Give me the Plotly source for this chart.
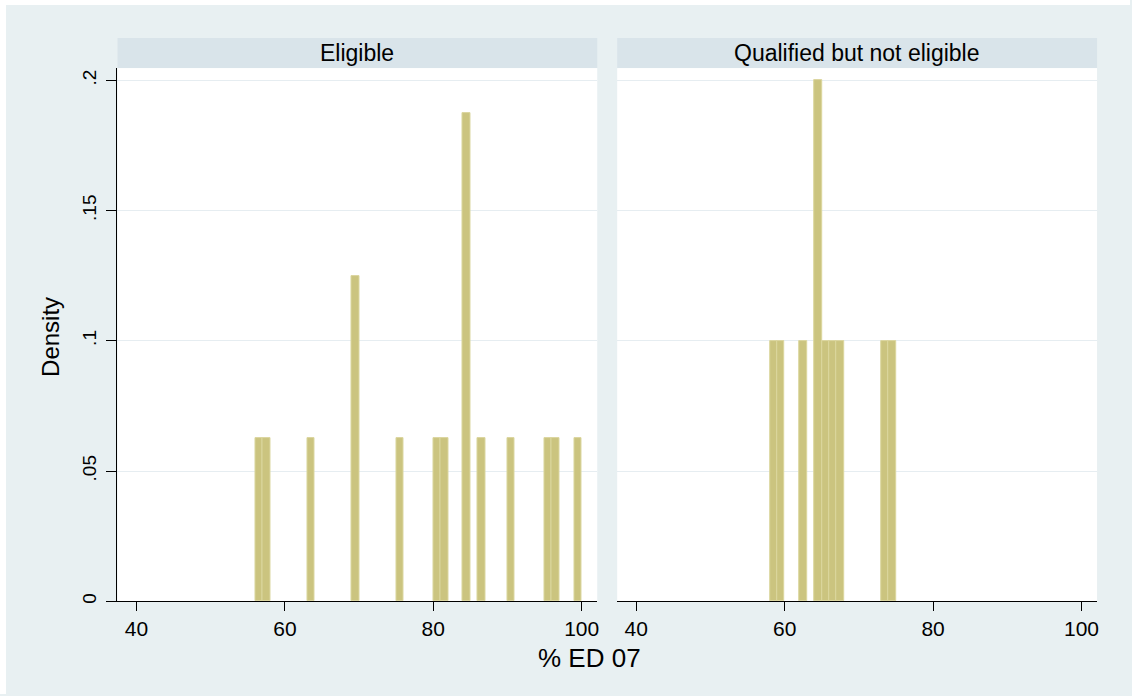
import plotly.graph_objects as go

# ---- data ----
elig_x = [56.5, 57.5, 63.5, 69.5, 75.5, 80.5, 81.5, 84.5, 86.5, 90.5, 95.5, 96.5, 99.5]
elig_y = [0.0625, 0.0625, 0.0625, 0.125, 0.0625, 0.0625, 0.0625, 0.1875, 0.0625, 0.0625, 0.0625, 0.0625, 0.0625]
qual_x = [58.5, 59.5, 62.5, 64.5, 65.5, 66.5, 67.5, 73.5, 74.5]
qual_y = [0.1, 0.1, 0.1, 0.2, 0.1, 0.1, 0.1, 0.1, 0.1]
bin_width = 1
panel_titles = ["Eligible", "Qualified but not eligible"]
x_ticks = [40, 60, 80, 100]
x_ticklabels = ["40", "60", "80", "100"]
y_ticks = [0, 0.05, 0.1, 0.15, 0.2]
y_ticklabels = ["0", ".05", ".1", ".15", ".2"]
x_title = "% ED 07"
y_title = "Density"

W, H = 1132, 696
OFF = 0  # body margin removed via post_script
BG = "#e8f0f2"
STRIP = "#d9e4ea"
FILL = "#cbc47f"
EDGE = "#dbd69e"
GRID = "#e6edf1"
FONT = "Liberation Sans, Arial, sans-serif"

def px(x):
    return (x - OFF) / W

def py(y):
    return 1 - (y - OFF) / H

left_dom = [px(117.7), px(598.3)]
right_dom = [px(618.3), px(1099)]
y_dom = [py(603), py(68.3)]
xr = [37.44, 102.1]
yr = [0, 0.2047]

fig = go.Figure()
fig.add_trace(go.Bar(x=elig_x, y=elig_y, width=[bin_width] * len(elig_x),
                     marker=dict(color=FILL, line=dict(color=EDGE, width=1)),
                     xaxis="x", yaxis="y", showlegend=False, hoverinfo="skip"))
fig.add_trace(go.Bar(x=qual_x, y=qual_y, width=[bin_width] * len(qual_x),
                     marker=dict(color=FILL, line=dict(color=EDGE, width=1)),
                     xaxis="x2", yaxis="y2", showlegend=False, hoverinfo="skip"))

xcommon = dict(range=xr, tickvals=x_ticks, ticktext=x_ticklabels, showgrid=False,
               zeroline=False, showline=True, linecolor="#000000", linewidth=1,
               ticks="outside", ticklen=9, tickcolor="#000000", tickwidth=1,
               tickfont=dict(family=FONT, size=21, color="#000000"), fixedrange=True)

fig.update_layout(
    width=W, height=H,
    margin=dict(l=0, r=0, t=0, b=0),
    paper_bgcolor=BG, plot_bgcolor="#ffffff",
    bargap=0, barmode="overlay",
    font=dict(family=FONT, color="#000000"),
    xaxis=dict(domain=left_dom, anchor="y", **xcommon),
    xaxis2=dict(domain=right_dom, anchor="y2", **xcommon),
    yaxis=dict(domain=y_dom, anchor="x", range=yr, tickvals=y_ticks, ticktext=y_ticklabels,
               showgrid=True, gridcolor=GRID, gridwidth=1, zeroline=False,
               showline=True, linecolor="#000000", linewidth=1,
               ticks="outside", ticklen=10, tickcolor="#000000", tickwidth=1,
               tickangle=-90, ticklabelstandoff=3,
               tickfont=dict(family=FONT, size=19, color="#000000"),
               fixedrange=True),
    yaxis2=dict(domain=y_dom, anchor="x2", range=yr, tickvals=y_ticks,
                showgrid=True, gridcolor=GRID, gridwidth=1, zeroline=False,
                showline=False, showticklabels=False, ticks="", fixedrange=True),
)

shapes = []
# thin white outer border (top and left), as in the reference image
shapes.append(dict(type="rect", xref="paper", yref="paper", x0=0, x1=1, y0=py(5), y1=1,
                   fillcolor="#ffffff", line=dict(width=0), layer="below"))
shapes.append(dict(type="rect", xref="paper", yref="paper", x0=0, x1=px(6), y0=0, y1=1,
                   fillcolor="#ffffff", line=dict(width=0), layer="below"))
# panel title strips
for dom in (left_dom, right_dom):
    shapes.append(dict(type="rect", xref="paper", yref="paper", x0=dom[0], x1=dom[1],
                       y0=py(68.3), y1=py(38), fillcolor=STRIP, line=dict(width=0), layer="below"))
fig.update_layout(shapes=shapes)

annotations = []
for dom, title in zip((left_dom, right_dom), panel_titles):
    annotations.append(dict(text=title, xref="paper", yref="paper", x=(dom[0] + dom[1]) / 2,
                            y=py(53), xanchor="center", yanchor="middle", showarrow=False,
                            font=dict(family=FONT, size=23, color="#000000")))
annotations.append(dict(text=x_title, xref="paper", yref="paper", x=px(591), y=py(660),
                        xanchor="center", yanchor="middle", showarrow=False,
                        font=dict(family=FONT, size=26, color="#000000")))
annotations.append(dict(text=y_title, xref="paper", yref="paper", x=px(50), y=py(338),
                        xanchor="center", yanchor="middle", showarrow=False, textangle=-90,
                        font=dict(family=FONT, size=24, color="#000000")))
fig.update_layout(annotations=annotations)

fig.write_html("out.html", config={"displayModeBar": False},
               post_script="document.body.style.margin='0px';")
